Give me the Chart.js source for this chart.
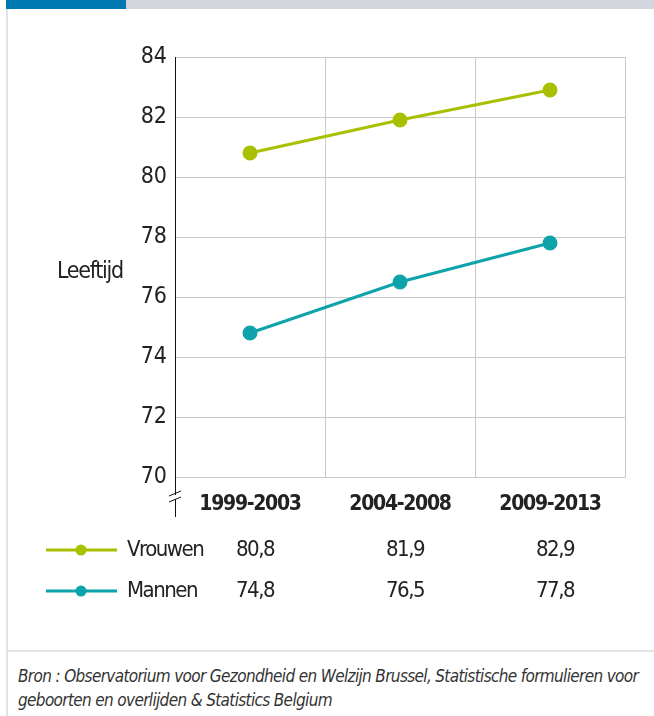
<!DOCTYPE html>
<html>
<head>
<meta charset="utf-8">
<script src="https://cdn.jsdelivr.net/npm/chart.js@4.4.0/dist/chart.umd.min.js"></script>
<style>
  body { margin: 0; background: #fff; width: 654px; height: 716px; overflow: hidden; position: relative; font-family: "DejaVu Sans Condensed", "DejaVu Sans", sans-serif; }
  #barBlue { position: absolute; left: 6px; top: 0; width: 120px; height: 9px; background: #0079b3; }
  #barGray { position: absolute; left: 126px; top: 0; width: 528px; height: 9px; background: #d4d6dd; }
  #leftLine { position: absolute; left: 6px; top: 9px; width: 2px; height: 707px; background: #e2e3e8; }
  #sep { position: absolute; left: 8px; top: 650px; width: 646px; height: 2px; background: #e2e3e8; }
  #bron { position: absolute; left: 18px; top: 664px; width: 636px; font-style: italic; font-size: 17px; line-height: 24px; color: #333; letter-spacing: -0.65px; }
  #wrap { position: absolute; left: 0; top: 0; width: 654px; height: 650px; }
</style>
</head>
<body>
<div id="barBlue"></div>
<div id="barGray"></div>
<div id="leftLine"></div>
<div id="wrap"><canvas id="chart"></canvas></div>
<div id="sep"></div>
<div id="bron">Bron : Observatorium voor Gezondheid en Welzijn Brussel, Statistische formulieren voor geboorten en overlijden &amp; Statistics Belgium</div>

<script>
// Gegevens
const periodes = ["1999-2003", "2004-2008", "2009-2013"];
const vrouwen = [80.8, 81.9, 82.9];
const mannen = [74.8, 76.5, 77.8];
const yTicks = [70, 72, 74, 76, 78, 80, 82, 84];

const FONT = '"DejaVu Sans Condensed", "DejaVu Sans", sans-serif';
const GREEN = "#a9c000";
const TEAL = "#0ea3ab";

function fmt(v) {
    return v.toFixed(1).replace(".", ",");
}

// smaller letter spacing for the x labels (font is wider than the original)
const narrowX = {
    id: "narrowX",
    afterLayout(chart) {
        const s = chart.scales.x;
        if (s._narrowed) return;
        const orig = s.drawLabels.bind(s);
        s.drawLabels = function (area) {
            chart.ctx.letterSpacing = "-1.3px";
            orig(area);
            chart.ctx.letterSpacing = "0px";
        };
        s._narrowed = true;
    }
};

// Extra tekening: label, aslijn onder de 70, tabel met legenda
const extras = {
    id: "extras",
    afterDraw(chart) {
        const ctx = chart.ctx;
        const area = chart.chartArea;
        const xs = chart.scales.x;
        ctx.save();

        // aslijn doortrekken + breekteken
        ctx.strokeStyle = "#111";
        ctx.lineWidth = 1;
        ctx.beginPath();
        ctx.moveTo(area.left + 0.5, area.bottom);
        ctx.lineTo(area.left + 0.5, area.bottom + 40);
        ctx.stroke();
        ctx.fillStyle = "#fff";
        ctx.fillRect(area.left - 6, area.bottom + 18, 12, 4);
        ctx.beginPath();
        ctx.moveTo(area.left - 6, area.bottom + 19);
        ctx.lineTo(area.left + 6, area.bottom + 14);
        ctx.moveTo(area.left - 6, area.bottom + 25);
        ctx.lineTo(area.left + 6, area.bottom + 20);
        ctx.stroke();

        // y-as titel
        ctx.fillStyle = "#222";
        ctx.font = "23px " + FONT;
        ctx.letterSpacing = "-1.3px";
        ctx.textAlign = "left";
        ctx.textBaseline = "middle";
        ctx.fillText("Leeftijd", 57, 272);

        // tabel
        const rows = [
            { label: "Vrouwen", data: vrouwen, color: GREEN, y: 550 },
            { label: "Mannen", data: mannen, color: TEAL, y: 591 }
        ];
        rows.forEach(r => {
            ctx.strokeStyle = r.color;
            ctx.lineWidth = 3;
            ctx.beginPath();
            ctx.moveTo(46, r.y);
            ctx.lineTo(117, r.y);
            ctx.stroke();
            ctx.fillStyle = r.color;
            ctx.beginPath();
            ctx.arc(81, r.y, 5.5, 0, Math.PI * 2);
            ctx.fill();

            ctx.fillStyle = "#222";
            ctx.font = "22px " + FONT;
            ctx.letterSpacing = "-1.5px";
            ctx.textAlign = "left";
            ctx.fillText(r.label, 127, r.y);
            ctx.textAlign = "center";
            r.data.forEach((v, i) => {
                ctx.fillText(fmt(v), xs.getPixelForValue(i) + 5, r.y);
            });
        });
        ctx.letterSpacing = "0px";
        ctx.restore();
    }
};

new Chart(document.getElementById("chart"), {
    type: "line",
    data: {
        labels: periodes,
        datasets: [
            {
                label: "Vrouwen",
                data: vrouwen,
                borderColor: GREEN,
                backgroundColor: GREEN,
                borderWidth: 3,
                pointRadius: 6,
                pointHoverRadius: 6,
                tension: 0
            },
            {
                label: "Mannen",
                data: mannen,
                borderColor: TEAL,
                backgroundColor: TEAL,
                borderWidth: 3,
                pointRadius: 6,
                pointHoverRadius: 6,
                tension: 0
            }
        ]
    },
    options: {
        responsive: true,
        maintainAspectRatio: false,
        animation: false,
        layout: { padding: { left: 0, right: 29, top: 57, bottom: 123 } },
        plugins: {
            legend: { display: false },
            tooltip: { enabled: false }
        },
        scales: {
            x: {
                offset: true,
                grid: { offset: true, color: "#c9c9c9", drawTicks: false },
                border: { color: "#c9c9c9" },
                ticks: {
                    padding: 15,
                    color: "#222",
                    font: { family: FONT, size: 21, weight: "bold" }
                },
                afterFit(s) { s.height = 50; }
            },
            y: {
                min: 70,
                max: 84,
                afterBuildTicks(s) { s.ticks = yTicks.map(v => ({ value: v })); },
                grid: { color: "#c9c9c9", drawTicks: false },
                border: { color: "#111", width: 1 },
                ticks: {
                    padding: 8,
                    color: "#222",
                    font: { family: FONT, size: 23 }
                },
                afterFit(s) { s.width = 175; }
            }
        }
    },
    plugins: [narrowX, extras]
});
</script>
</body>
</html>
